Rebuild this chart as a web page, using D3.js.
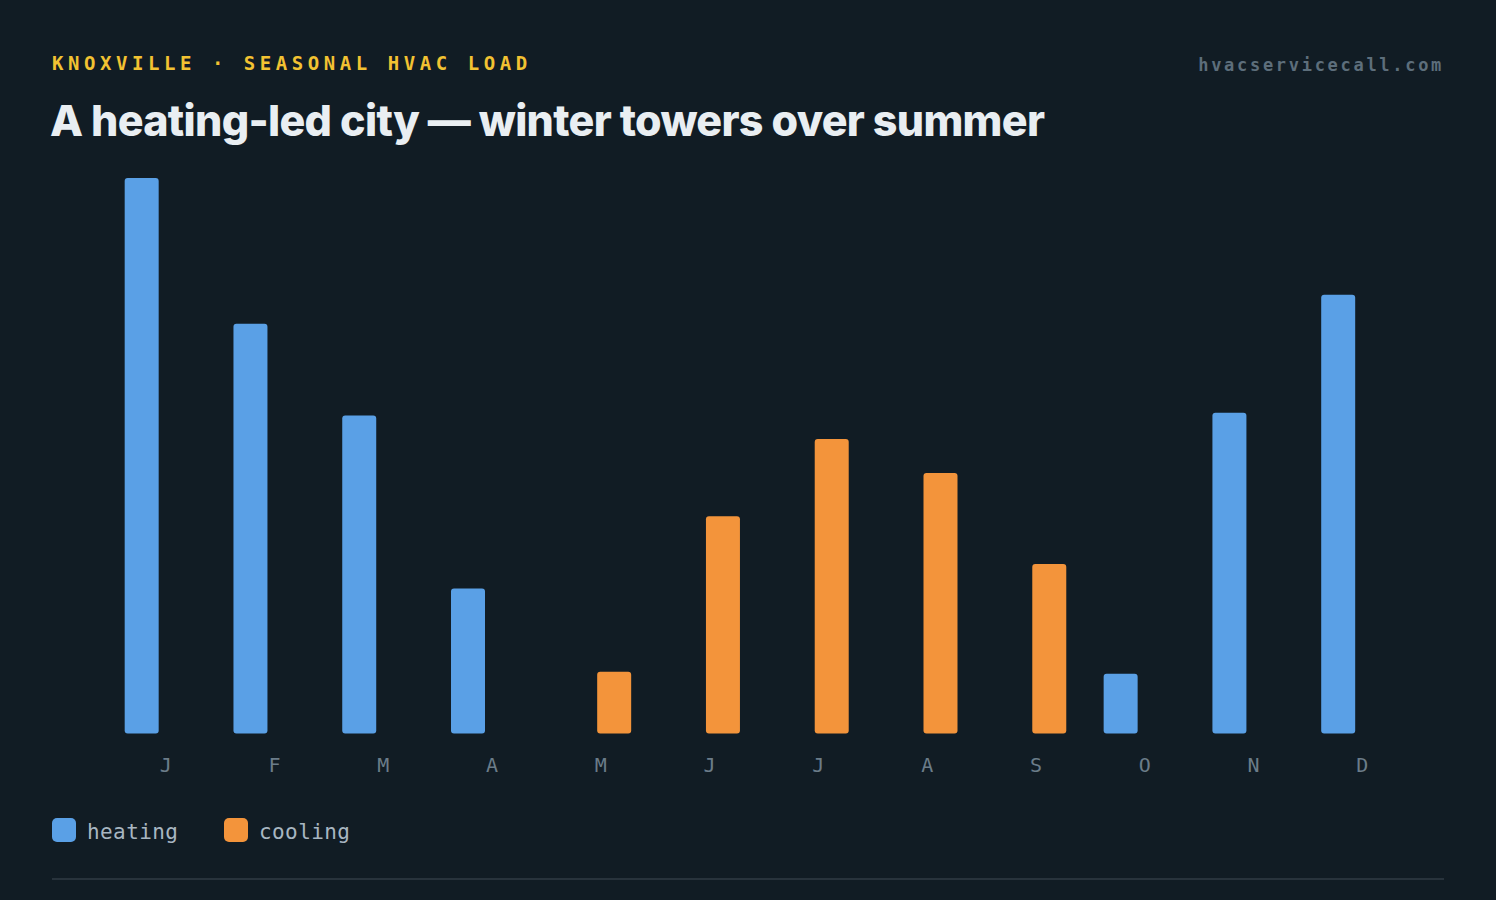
<!DOCTYPE html>
<html>
<head>
<meta charset="utf-8">
<script src="https://cdn.jsdelivr.net/npm/d3@7"></script>
<style>
  html, body { margin: 0; padding: 0; background: #111c24; }
  svg { display: block; }
</style>
</head>
<body>
<svg id="chart"></svg>
<script>
// monthly load, degree-days (one side only per month)
const months = ['J', 'F', 'M', 'A', 'M ', 'J ', 'J  ', 'A ', 'S', 'O', 'N', 'D'];
const monthLabels = ['J', 'F', 'M', 'A', 'M', 'J', 'J', 'A', 'S', 'O', 'N', 'D'];
const heating = [800, 590, 458, 209, 0, 0, 0, 0, 0, 86, 462, 632];
const cooling = [0, 0, 0, 0, 89, 313, 424, 375, 244, 0, 0, 0];
const keys = ['heating', 'cooling'];
const colors = { heating: '#5aa0e6', cooling: '#f3943b' };

const W = 1496;
const H = 900;
const margin = { top: 178, right: 47, bottom: 166.5, left: 79 };

const svg = d3.select('#chart').attr('width', W).attr('height', H);

// header
svg.append('text')
    .attr('x', 52)
    .attr('y', 70)
    .attr('fill', '#f2c232')
    .style('font-family', 'DejaVu Sans Mono, monospace')
    .style('font-weight', 700)
    .style('font-size', '19px')
    .style('letter-spacing', '4.55px')
    .text('KNOXVILLE · SEASONAL HVAC LOAD');

svg.append('text')
    .attr('x', 1444)
    .attr('y', 71)
    .attr('text-anchor', 'end')
    .attr('fill', '#5d6e7b')
    .style('font-family', 'DejaVu Sans Mono, monospace')
    .style('font-weight', 700)
    .style('font-size', '17px')
    .style('letter-spacing', '2.7px')
    .text('hvacservicecall.com');

svg.append('text')
    .attr('x', 50)
    .attr('y', 136)
    .attr('fill', '#e9eef2')
    .style('font-family', 'Inter, sans-serif')
    .style('font-weight', 800)
    .style('font-size', '43px')
    .style('letter-spacing', '-0.7px')
    .text('A heating-led city — winter towers over summer');

// scales
const x0 = d3.scaleBand()
    .domain(months)
    .range([margin.left, W - margin.right])
    .paddingInner(0.245)
    .paddingOuter(0.42);

const x1 = d3.scaleBand()
    .domain(keys)
    .range([0, 71.4])
    .paddingInner(0.091);

const y = d3.scaleLinear()
    .domain([0, 800])
    .range([H - margin.bottom, margin.top]);

const rows = months.map((m, i) => ({ m, heating: heating[i], cooling: cooling[i] }));

const g = svg.append('g').attr('class', 'bars');

g.selectAll('.month')
    .data(rows)
    .enter()
    .append('g')
    .attr('class', 'month')
    .attr('transform', (d) => `translate(${x0(d.m)},0)`)
    .selectAll('rect')
    .data((d) => keys.map((k) => ({ key: k, value: d[k] })).filter((d) => d.value > 0))
    .enter()
    .append('rect')
    .attr('x', (d) => x1(d.key))
    .attr('width', x1.bandwidth())
    .attr('y', (d) => y(d.value))
    .attr('height', (d) => y(0) - y(d.value))
    .attr('rx', 3)
    .attr('fill', (d) => colors[d.key]);

// month axis
const axisX = d3.axisBottom(x0)
    .tickSize(0)
    .tickPadding(0)
    .tickFormat((d, i) => monthLabels[i]);

const ax = svg.append('g')
    .attr('class', 'axis axis-x')
    .attr('transform', `translate(0,${H - margin.bottom})`)
    .call(axisX);

ax.select('.domain').remove();
ax.selectAll('text')
    .attr('y', 38)
    .attr('dy', 0)
    .attr('fill', '#6b7c89')
    .style('font-family', 'DejaVu Sans Mono, monospace')
    .style('font-size', '20px');

// legend
const legend = svg.append('g').attr('class', 'legend');
const legendX = [52, 224];

keys.forEach((k, i) => {
    legend.append('rect')
        .attr('x', legendX[i])
        .attr('y', 818)
        .attr('width', 24)
        .attr('height', 24)
        .attr('rx', 5)
        .attr('fill', colors[k]);

    legend.append('text')
        .attr('x', legendX[i] + 35)
        .attr('y', 839)
        .attr('fill', '#a8b6c1')
        .style('font-family', 'DejaVu Sans Mono, monospace')
        .style('font-size', '21px')
        .style('letter-spacing', '0.4px')
        .text(k);
});

svg.append('line')
    .attr('x1', 52)
    .attr('x2', 1444)
    .attr('y1', 879)
    .attr('y2', 879)
    .attr('stroke', '#28333c')
    .attr('stroke-width', 2);
</script>
</body>
</html>
